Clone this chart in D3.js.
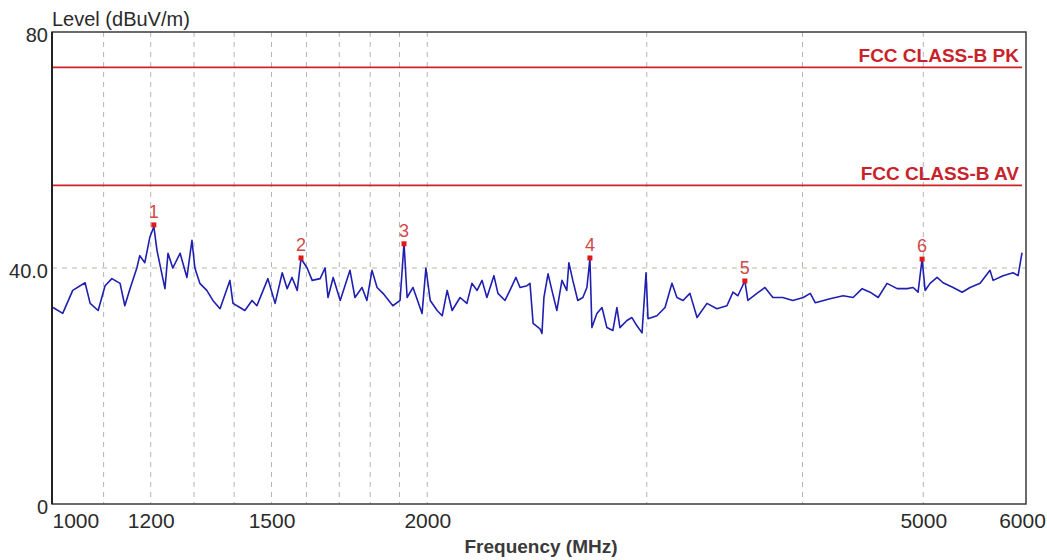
<!DOCTYPE html>
<html>
<head>
<meta charset="utf-8">
<script src="https://cdn.jsdelivr.net/npm/d3@7"></script>
<style>
  html, body { margin: 0; padding: 0; background: #fff; }
  svg { display: block; }
  text { font-family: "Liberation Sans", Arial, sans-serif; }
</style>
</head>
<body>
<svg id="chart" width="1047" height="560"></svg>
<script>
// ---- data ----
const freqs = [1002,1020,1039,1063,1073,1089,1103,1117,1134,1144,1155,1170,1176,1187,1198,1207,1214,1225,1232,1239,1250,1267,1283,1295,1302,1314,1331,1346,1364,1389,1397,1415,1428,1447,1460,1477,1490,1510,1530,1544,1558,1573,1584,1602,1617,1641,1656,1665,1681,1703,1734,1750,1773,1789,1806,1823,1843,1877,1902,1916,1927,1948,1981,1995,2011,2037,2056,2075,2094,2125,2152,2172,2193,2213,2233,2262,2279,2309,2330,2356,2374,2405,2418,2432,2463,2472,2481,2500,2518,2541,2565,2588,2598,2617,2641,2666,2686,2701,2711,2736,2762,2787,2818,2839,2855,2892,2919,2946,2974,2996,3007,3057,3103,3143,3172,3208,3249,3292,3353,3415,3479,3518,3550,3596,3616,3677,3732,3787,3857,3929,4006,4058,4096,4209,4312,4392,4466,4532,4600,4676,4764,4853,4907,4952,4989,5017,5063,5129,5186,5283,5372,5451,5553,5656,5688,5794,5902,5957,6000];
const levels = [33.3,32.3,36.2,37.5,34,32.8,37,38.2,37.4,33.6,36.5,40.1,42.1,40.9,45.2,47.0,43,39,36.5,42.5,40,42.5,38.4,44.7,40,37.4,36.2,34.5,33.1,37.9,34,33.3,32.8,34.5,33.6,36.2,38.2,34,39.2,36.5,38.4,36.2,41.6,40,37.9,38.2,40,35,38.4,34.5,39.6,35,36.7,34.5,39.6,36.7,35.7,33.6,34.5,44.2,35,36.7,32.3,40,34.5,32.8,31.9,36.2,32.8,35,34,37.4,36.2,37.9,35,38.7,35.7,34.5,36.2,38.4,36.7,37,37.4,30.6,29.7,28.9,35,39,36.2,32.8,37.9,36.2,40.9,37.9,34.5,35,36.7,41.6,29.9,32.3,33.3,29.9,29.4,33.3,29.9,31.1,31.6,30.2,29,39.2,31.4,31.9,33.3,37.4,35,34.5,35.7,31.6,34,33.1,33.6,35.9,35.3,37.8,34.5,35.7,36.7,35,35,34.5,35,35.7,34.1,34.8,35.3,35,36.5,35.9,35,37.4,36.5,36.5,36.7,35.9,41.5,36.2,37.4,38.4,37.5,36.7,35.9,36.7,37.4,39.6,37.9,38.7,39.2,38.7,42.6];

const limitNames = ["FCC CLASS-B PK", "FCC CLASS-B AV"];
const limitValues = [74, 54];

const markerLabels = ["1", "2", "3", "4", "5", "6"];
const markerFreqs = [1207, 1584, 1916, 2701, 3596, 4989];
const markerLevels = [47.3, 41.7, 44.1, 41.7, 37.8, 41.5];

const xTickValues = [1000, 1200, 1500, 2000, 5000, 6000];
const xGridValues = [1100, 1200, 1300, 1400, 1500, 1600, 1700, 1800, 1900, 2000, 3000, 4000, 5000];
const yTickValues = [0, 40, 80];
const yTickLabels = ["0", "40.0", "80"];

const yTitle = "Level (dBuV/m)";
const xTitle = "Frequency (MHz)";

// ---- layout ----
const svg = d3.select("#chart");
const pL = 52, pR = 1022, pT = 32, pB = 504, frameR = 1026;

const x = d3.scaleLog().domain([1000, 6000]).range([pL, pR]);
const y = d3.scaleLinear().domain([0, 80]).range([pB, pT]);

svg.append("rect").attr("width", 1047).attr("height", 560).attr("fill", "#fff");

// grid
svg.append("g").selectAll("line").data(xGridValues).join("line")
  .attr("x1", d => x(d)).attr("x2", d => x(d))
  .attr("y1", pT).attr("y2", pB)
  .attr("stroke", "#b4b4b4").attr("stroke-width", 1)
  .attr("stroke-dasharray", "5,5");

svg.append("line")
  .attr("x1", pL).attr("x2", frameR)
  .attr("y1", y(40)).attr("y2", y(40))
  .attr("stroke", "#b8b4a4").attr("stroke-width", 1)
  .attr("stroke-dasharray", "5,5");

// limit lines
const lim = svg.append("g");
lim.selectAll("line").data(limitValues).join("line")
  .attr("x1", pL).attr("x2", pR)
  .attr("y1", d => y(d)).attr("y2", d => y(d))
  .attr("stroke", "#cc2228").attr("stroke-width", 1.6);
lim.selectAll("text").data(limitNames).join("text")
  .attr("x", pR - 3)
  .attr("y", (d, i) => y(limitValues[i]) - 5)
  .attr("text-anchor", "end")
  .attr("font-size", 19).attr("font-weight", "bold")
  .attr("fill", "#c8232b")
  .text(d => d);

// trace
const pts = freqs.map((f, i) => [f, levels[i]]);
svg.append("path")
  .datum(pts)
  .attr("fill", "none")
  .attr("stroke", "#1f1fb0")
  .attr("stroke-width", 1.6)
  .attr("stroke-linejoin", "round")
  .attr("d", d3.line().x(d => x(d[0])).y(d => y(d[1])));

// markers
const mk = svg.append("g");
mk.selectAll("rect").data(markerFreqs).join("rect")
  .attr("x", d => x(d) - 2.5)
  .attr("y", (d, i) => y(markerLevels[i]) - 2.5)
  .attr("width", 5).attr("height", 5)
  .attr("fill", "#e01818");
mk.selectAll("text").data(markerLabels).join("text")
  .attr("x", (d, i) => x(markerFreqs[i]))
  .attr("y", (d, i) => y(markerLevels[i]) - 7)
  .attr("text-anchor", "middle")
  .attr("font-size", 18)
  .attr("fill", "#d04848")
  .text(d => d);

// frame
svg.append("rect")
  .attr("x", pL).attr("y", pT)
  .attr("width", frameR - pL).attr("height", pB - pT)
  .attr("fill", "none").attr("stroke", "#3a3a3a").attr("stroke-width", 1.5);
svg.append("line")
  .attr("x1", pL).attr("x2", pL).attr("y1", pT).attr("y2", pB)
  .attr("stroke", "#222").attr("stroke-width", 2);

// axes
const xAxis = d3.axisBottom(x).tickValues(xTickValues).tickSize(0).tickFormat(d3.format("d"));
const gx = svg.append("g").attr("transform", `translate(0,${pB})`).call(xAxis);
gx.select(".domain").remove();
gx.selectAll("text")
  .attr("font-family", "'Liberation Sans', Arial, sans-serif")
  .attr("font-size", 21).attr("fill", "#2a2a2a")
  .attr("dy", null).attr("y", 24)
  .attr("text-anchor", d => d === 1000 ? "start" : "middle");

const yAxis = d3.axisLeft(y).tickValues(yTickValues).tickSize(0).tickFormat((d, i) => yTickLabels[i]);
const gy = svg.append("g").attr("transform", `translate(${pL},0)`).call(yAxis);
gy.select(".domain").remove();
gy.selectAll("text")
  .attr("font-family", "'Liberation Sans', Arial, sans-serif")
  .attr("font-size", 20).attr("fill", "#2a2a2a")
  .attr("x", -4).attr("dy", "0.35em")
  .attr("transform", "translate(0,2)");

// titles
svg.append("text").attr("x", pL).attr("y", 26)
  .attr("font-size", 20).attr("fill", "#2a2a2a").text(yTitle);
svg.append("text").attr("x", 541).attr("y", 553)
  .attr("text-anchor", "middle")
  .attr("font-size", 19).attr("font-weight", "bold").attr("fill", "#3a3a3a").text(xTitle);
</script>
</body>
</html>
